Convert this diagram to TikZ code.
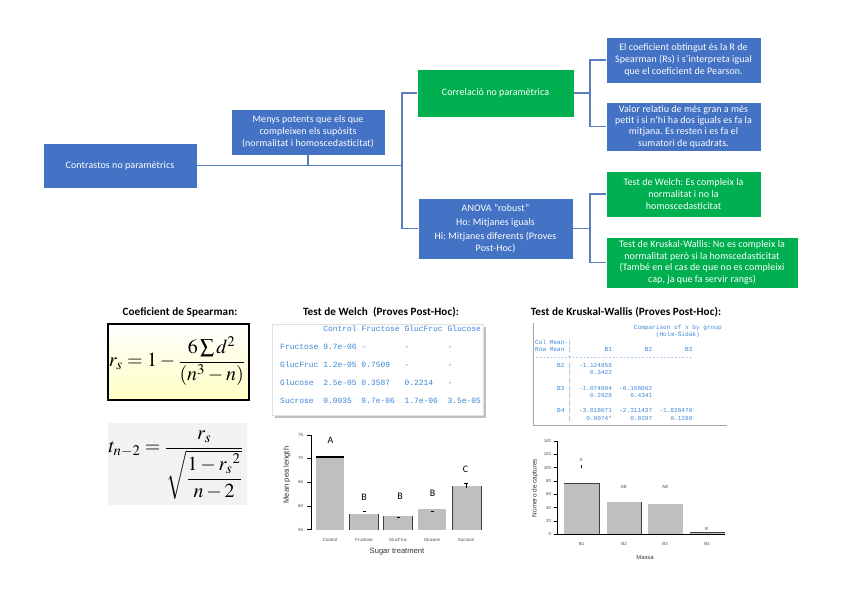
\documentclass[tikz,border=0pt]{standalone}
\usepackage{amsmath}
\usepackage{mathptmx}
\usepackage[no-math]{fontspec}
\setmainfont{Carlito}[LetterSpace=1]
\newfontfamily\monofont{Liberation Mono}
\newfontfamily\chartfont{Liberation Sans}
\newcommand\monogap[1]{\hspace*{#1\fontcharwd\font`0}}
\definecolor{mapblue}{HTML}{4472C4}
\definecolor{mapgreen}{HTML}{00B050}
\definecolor{linkblue}{HTML}{5B7CC0}
\definecolor{outtext}{HTML}{3D86D6}
\definecolor{bargray}{HTML}{BFBFBF}
\tikzset{
  box/.style={draw=white, line width=0.6pt, text=white, align=center,
    inner sep=1mm, font=\fontsize{8.5}{10.2}\selectfont},
  bluebox/.style={box, fill=mapblue},
  greenbox/.style={box, fill=mapgreen},
  link/.style={draw=linkblue, line width=1pt},
  sectiontitle/.style={font=\bfseries\fontsize{9.5}{11}\selectfont},
  rout/.style={text=outtext, align=left, inner sep=0pt},
  bar/.style={fill=bargray},
  baredge/.style={draw=black!75, line width=0.6pt},
  axisline/.style={line width=0.8pt},
  ticklabel/.style={font=\chartfont\fontsize{3.8}{4}\selectfont, text=black!70, inner sep=0.5pt},
  chartlabel/.style={font=\chartfont\fontsize{6.5}{7}\selectfont, text=black!80},
  grouplabel/.style={font=\fontsize{8.5}{9}\selectfont}
}
\begin{document}
\frenchspacing
\begin{tikzpicture}[x=0.3mm,y=-0.3mm]
  \useasboundingbox (0,0) rectangle (848,599);
  \node[bluebox, minimum width=46.2mm, minimum height=13.5mm] (root) at (120,165.5)
    {Contrastos no paramètrics};
  \node[bluebox, minimum width=46.2mm, minimum height=13.8mm] (menys) at (308,132)
    {Menys potents que els que\\compleixen els supòsits\\(normalitat i homoscedasticitat)};
  \node[greenbox, minimum width=47.1mm, minimum height=14.4mm] (corr) at (495.5,93)
    {Correlació no paramètrica};
  \node[bluebox, minimum width=46.5mm, minimum height=13.8mm] (coef) at (683.5,60)
    {El coeficient obtingut és la R de\\Spearman (Rs) i s'interpreta igual\\que el coeficient de Pearson.};
  \node[bluebox, minimum width=46.5mm, minimum height=13.5mm, font=\fontsize{8.5}{9.6}\selectfont] (valor) at (683.5,126.5)
    {Valor relatiu de més gran a més\\petit i si n'hi ha dos iguals es fa la\\mitjana. Es resten i es fa el\\sumatori de quadrats.};
  \node[bluebox, minimum width=46.5mm, minimum height=18.3mm] (anova) at (495.5,228.5)
    {ANOVA "robust"\\[2pt]Ho: Mitjanes iguals\\[2pt]Hi: Mitjanes diferents (Proves\\Post-Hoc)};
  \node[greenbox, minimum width=46.5mm, minimum height=13.8mm] (welch) at (683.5,194)
    {Test de Welch: Es compleix la\\normalitat i no la\\homoscedasticitat};
  \node[greenbox, minimum width=57.6mm, minimum height=15.3mm, font=\fontsize{8.5}{9.9}\selectfont] (kruskal) at (702,262.5)
    {Test de Kruskal-Wallis: No es compleix la\\normalitat però si la homscedasticitat\\(També en el cas de que no es compleixi\\cap, ja que fa servir rangs)};
  \coordinate (trunk) at (402,165.5);
  \coordinate (corrfork) at (590,93);
  \coordinate (anovafork) at (590,228.5);
  \begin{scope}[link]
    \draw (root) -- (trunk);
    \draw (menys) -- (menys |- trunk);
    \draw (corr) -| (trunk);
    \draw (trunk) |- (anova);
    \draw (corr) -- (corrfork);
    \draw (coef) -| (corrfork);
    \draw (corrfork) |- (valor);
    \draw (anova) -- (anovafork);
    \draw (welch) -| (anovafork);
    \draw (anovafork) |- (kruskal);
  \end{scope}

  \node[sectiontitle] (spearmantitle) at (180,312) {Coeficient de Spearman:};
  \node[sectiontitle] (welchtitle) at (381,312) {Test de Welch\ \ (Proves Post-Hoc):};
  \node[sectiontitle] (kruskaltitle) at (626,312) {Test de Kruskal-Wallis (Proves Post-Hoc):};

  \shade[top color=white, bottom color={rgb,255:red,255;green,255;blue,195}] (108,324) rectangle (249,400);
  \draw[line width=1.3pt] (108,324) rectangle (249,400);
  \node (spearmanformula) at (177,361)
    {\fontsize{17}{19}\selectfont $r_s = 1-\dfrac{6\sum d^2}{(n^3-n)}$};
  \fill[black!5] (108,423) rectangle (247,505);
  \node (tformula) at (176,465)
    {\fontsize{17}{19}\selectfont $t_{n-2} = \dfrac{r_s}{\sqrt{\dfrac{1-{r_s}^2}{n-2}}}$};

  \fill[black!25] (275,327) rectangle (486,418);
  \fill[white] (272,324) rectangle (483,415);
  \draw[black!12] (272,324) rectangle (483,415);
  \node[rout, anchor=north west, font=\monofont\fontsize{6.8}{15.4}\selectfont] (welchtable) at (280,325.5)
    {\monogap{9}Control Fructose GlucFruc Glucose\\
     Fructose 9.7e-06 -\monogap{8}-\monogap{8}-\\
     GlucFruc 1.2e-05 0.7509\monogap{3}-\monogap{8}-\\
     Glucose\monogap{2}2.5e-05 0.3587\monogap{3}0.2214\monogap{3}-\\
     Sucrose\monogap{2}0.0035\monogap{2}9.7e-06\monogap{2}1.7e-06\monogap{2}3.5e-05};

  \draw[black!35, line width=0.6pt] (533,323) -- (533,425) -- (727,425);
  \node[rout, anchor=north west, font=\monofont\fontsize{5.2}{6.5}\selectfont] (kruskaltable) at (535,324.5)
    {\monogap{27}Comparison of x by group\\
     \monogap{33}(Holm-Šidák)\\
     Col Mean-|\\
     Row Mean |\monogap{9}B1\monogap{9}B2\monogap{9}B3\\
     ---------+---------------------------------\\
     \monogap{6}B2 |\monogap{2}-1.124858\\
     \monogap{9}|\monogap{5}0.3422\\
     \monogap{9}|\\
     \monogap{6}B3 |\monogap{2}-1.074094\monogap{2}-0.166062\\
     \monogap{9}|\monogap{5}0.2628\monogap{5}0.4341\\
     \monogap{9}|\\
     \monogap{6}B4 |\monogap{2}-3.018071\monogap{2}-2.311437\monogap{2}-1.826470\\
     \monogap{9}|\monogap{4}0.0074*\monogap{5}0.0297\monogap{5}0.1288};

  \fill[bar] (316,457) rectangle (344,529.5);
  \draw[line width=1pt] (316,457) -- (344,457);
  \fill[bar] (349.5,514) rectangle (378,529.5);
  \draw[baredge] (349.5,514) -- (349.5,529.5) (378,514) -- (378,529.5);
  \fill[bar] (383.5,515.5) rectangle (412.5,529.5);
  \draw[baredge] (383.5,515.5) -- (383.5,529.5) (412.5,515.5) -- (412.5,529.5);
  \fill[bar] (418,509) rectangle (446,529.5);
  \fill[bar] (452,486) rectangle (481,529.5);
  \draw[baredge] (452,486) -- (452,529.5) (481,486) -- (481,529.5);
  \draw[line width=0.6pt] (362.5,511.5) -- (365.5,511.5);
  \draw[line width=0.6pt] (396.5,517.5) -- (399.5,517.5);
  \draw[line width=0.6pt] (431,511.5) -- (434,511.5);
  \draw[line width=0.6pt] (464,483.5) -- (468,483.5) (466,483.5) -- (466,488);
  \draw[axisline] (307,435) -- (311,435) -- (311,529.5) -- (307,529.5);
  \draw[axisline] (307,458) -- (311,458);
  \draw[axisline] (307,482) -- (311,482);
  \draw[axisline] (307,506) -- (311,506);
  \node[ticklabel, anchor=east] (w75) at (304,435) {75};
  \node[ticklabel, anchor=east] (w70) at (304,458) {70};
  \node[ticklabel, anchor=east] (w65) at (304,482) {65};
  \node[ticklabel, anchor=east] (w60) at (304,506) {60};
  \node[ticklabel, anchor=east] (w55) at (304,529.5) {55};
  \node[chartlabel, rotate=90] (wylabel) at (287,475) {Mean pea length};
  \node[ticklabel] (wcontrol) at (330,540) {Control};
  \node[ticklabel] (wfructose) at (364,540) {Fructose};
  \node[ticklabel] (wglucfruc) at (398,540) {GlucFruc};
  \node[ticklabel] (wglucose) at (432,540) {Glucose};
  \node[ticklabel] (wsucrose) at (466,540) {Sucrose};
  \node[chartlabel] (wxlabel) at (397,552) {Sugar treatment};
  \node[grouplabel] (wa) at (330.5,440) {A};
  \node[grouplabel] (wb1) at (364,497) {B};
  \node[grouplabel] (wb2) at (400,496) {B};
  \node[grouplabel] (wb3) at (432.5,493) {B};
  \node[grouplabel] (wc) at (465.5,469) {C};

  \fill[bar] (564.3,483.3) rectangle (599,534.3);
  \draw[baredge] (564.3,483.3) -- (599,483.3) -- (599,534.3);
  \fill[bar] (606.7,502.3) rectangle (641.7,534.3);
  \draw[baredge] (641.7,502.3) -- (641.7,534.3);
  \fill[bar] (647.7,504.3) rectangle (682.7,534.3);
  \fill[bar] (690,532.3) rectangle (725,534.3);
  \draw[baredge] (690,532.3) -- (725,532.3);
  \draw[axisline] (557,441) -- (557,534.3) -- (725,534.3);
  \draw[axisline] (554,441) -- (557,441);
  \draw[axisline] (554,454.3) -- (557,454.3);
  \draw[axisline] (554,467.7) -- (557,467.7);
  \draw[axisline] (554,481) -- (557,481);
  \draw[axisline] (554,494.3) -- (557,494.3);
  \draw[axisline] (554,507.7) -- (557,507.7);
  \draw[axisline] (554,521) -- (557,521);
  \draw[axisline] (554,534.3) -- (557,534.3);
  \node[ticklabel, anchor=east] (k140) at (552,441) {140};
  \node[ticklabel, anchor=east] (k120) at (552,454.3) {120};
  \node[ticklabel, anchor=east] (k100) at (552,467.7) {100};
  \node[ticklabel, anchor=east] (k80) at (552,481) {80};
  \node[ticklabel, anchor=east] (k60) at (552,494.3) {60};
  \node[ticklabel, anchor=east] (k40) at (552,507.7) {40};
  \node[ticklabel, anchor=east] (k20) at (552,521) {20};
  \node[ticklabel, anchor=east] (k0) at (552,534.3) {0};
  \node[chartlabel, rotate=90, font=\chartfont\fontsize{5.5}{6}\selectfont] (kylabel) at (535,488) {Número de captures};
  \node[ticklabel] (kb1) at (581.5,543.5) {B1};
  \node[ticklabel] (kb2) at (624,543.5) {B2};
  \node[ticklabel] (kb3) at (665,543.5) {B3};
  \node[ticklabel] (kb4) at (707,543.5) {B4};
  \node[chartlabel, font=\chartfont\fontsize{5}{6}\selectfont] (kxlabel) at (645,557.5) {Massa};
  \node[ticklabel] (ka) at (581,460) {A};
  \draw[line width=0.5pt] (581,464.5) -- (581,467.5);
  \node[ticklabel] (kab1) at (623.5,487) {AB};
  \node[ticklabel] (kab2) at (665,487) {AB};
  \node[ticklabel] (kbb) at (706.5,528.5) {B};
\end{tikzpicture}
\end{document}
